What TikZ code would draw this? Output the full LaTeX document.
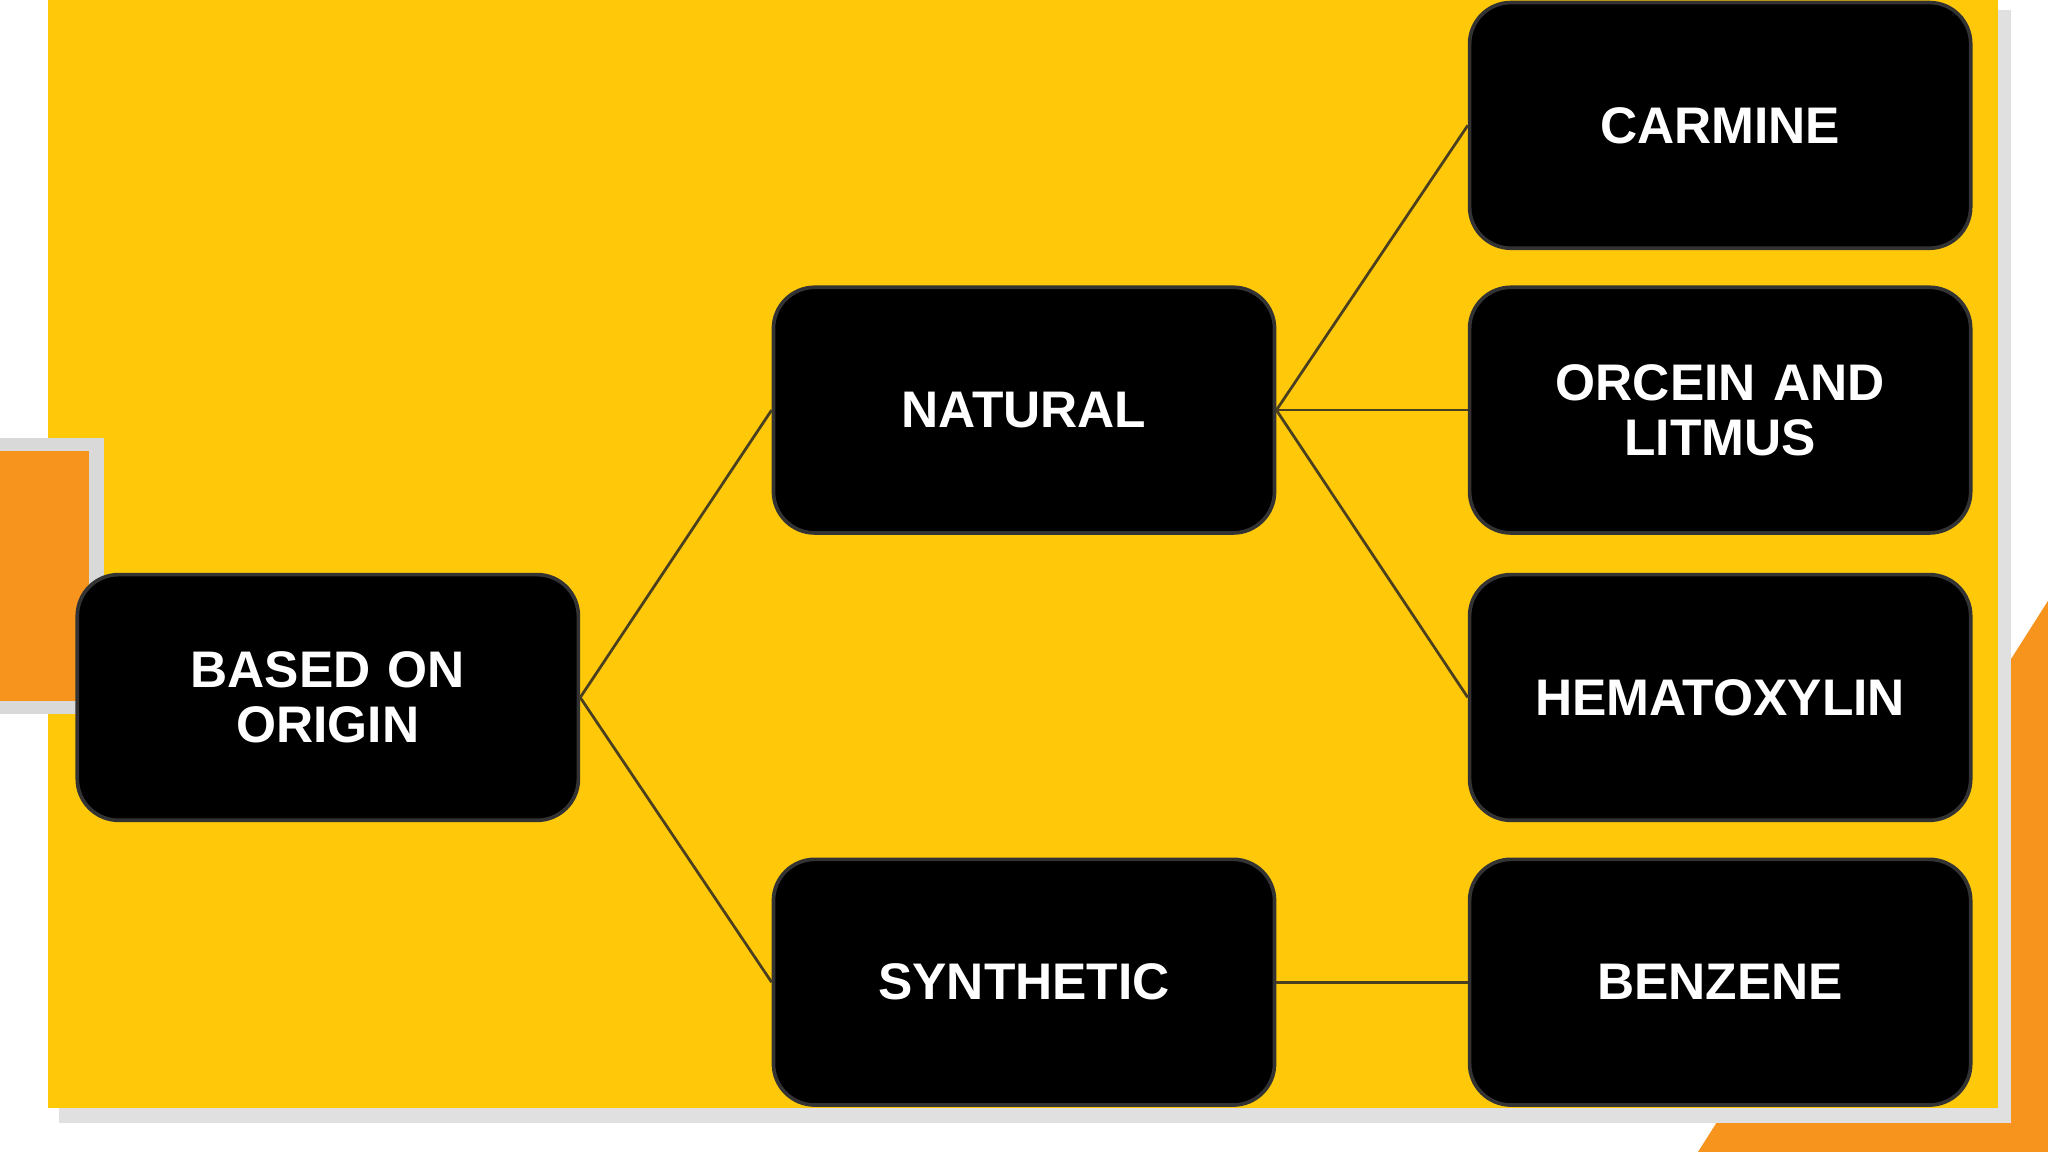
\documentclass[tikz,border=0pt]{standalone}
\usepackage{fontspec}
\setmainfont{Liberation Sans}
\definecolor{ylw}{HTML}{FFC90A}
\definecolor{org}{HTML}{F7941D}
\definecolor{lnc}{HTML}{4A4020}
\begin{document}
\begin{tikzpicture}[x=0.01cm,y=-0.01cm,
  box/.style={draw=black!80,line width=0.8pt,fill=black,rounded corners=9pt,minimum width=3.78cm,minimum height=1.88cm,text width=3.6cm,align=center,text=white,font=\fontsize{11.2}{12}\selectfont\bfseries},
  conn/.style={draw=lnc,line width=0.6pt}]
\useasboundingbox (0,0) rectangle (1568,882);
\fill[white] (0,0) rectangle (1568,882);
\fill[org] (1568,460) -- (1568,882) -- (1300,882) -- cycle;
\fill[black!12] (45,8) rectangle (1540,860);
\fill[ylw] (37,0) rectangle (1530,848);
\fill[black!15] (0,335) rectangle (80,547);
\fill[org] (0,345) rectangle (68,537);
\node[box] (o) at (251,534) {BASED ON ORIGIN};
\node[box] (n) at (784,314) {NATURAL};
\node[box] (s) at (784,752) {SYNTHETIC};
\node[box] (c) at (1317,96) {CARMINE};
\node[box] (l) at (1317,314) {ORCEIN AND\\LITMUS};
\node[box] (h) at (1317,534) {HEMATOXYLIN};
\node[box] (b) at (1317,752) {BENZENE};
\draw[conn] (o.east) -- (n.west);
\draw[conn] (o.east) -- (s.west);
\draw[conn] (n.east) -- (c.west);
\draw[conn] (n.east) -- (l.west);
\draw[conn] (n.east) -- (h.west);
\draw[conn] (s.east) -- (b.west);
\end{tikzpicture}
\end{document}
